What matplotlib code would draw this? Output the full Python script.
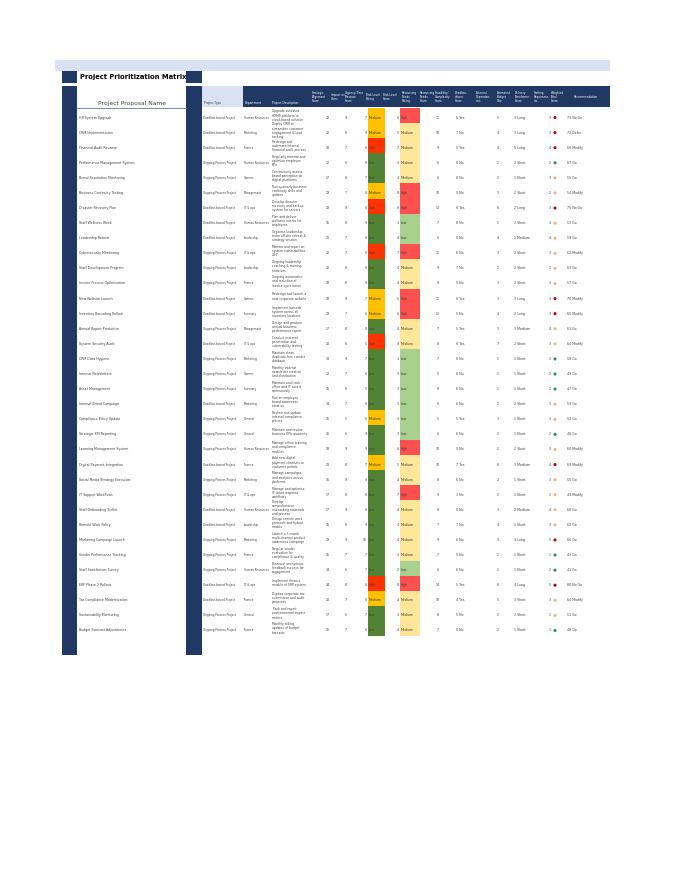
import matplotlib
matplotlib.use("Agg")
import matplotlib.pyplot as plt
from matplotlib.patches import Rectangle

names = ["HR System Upgrade","CRM Implementation","Financial Audit Revamp","Performance Management System",
 "Brand Reputation Monitoring","Business Continuity Testing","Disaster Recovery Plan","Staff Wellness Week",
 "Leadership Retreat","Cybersecurity Monitoring","Staff Development Program","Invoice Process Optimization",
 "New Website Launch","Inventory Barcoding Rollout","Annual Report Production","System Security Audit",
 "CRM Data Hygiene","Internal Newsletters","Asset Management","Internal Brand Campaign",
 "Compliance Policy Update","Strategic KPI Reporting","Learning Management System","Digital Payment Integration",
 "Social Media Strategy Execution","IT Support Workflows","Staff Onboarding Toolkit","Remote Work Policy",
 "Marketing Campaign Launch","Vendor Performance Tracking","Staff Satisfaction Survey","ERP Phase 2 Rollout",
 "Tax Compliance Modernization","Sustainability Monitoring","Budget Forecast Adjustments"]
ptype = list("DDDOOODDDOOODDODOOODOOODOODDOOODDOO")
depts = ["Human Resources","Marketing","Finance","Human Resources","Comms","Management","IT & ops","Human Resources",
 "Leadership","IT & ops","Leadership","Finance","Comms","Inventory","Management","IT & ops","Marketing","Comms",
 "Inventory","Marketing","General","General","Human Resources","Finance","Marketing","IT & ops","Human Resources",
 "Leadership","Marketing","Finance","Human Resources","IT & ops","Finance","General","Finance"]
descs = ["Upgrade outdated\nHRMS platform to\ncloud-based solution","Deploy CRM to\nstreamline customer\nengagement & lead\ntracking",
 "Redesign and\nautomate internal\nfinancial audit process","Regularly monitor and\noptimise employee\nKPIs",
 "Continuously assess\nbrand perception on\ndigital platforms","Run quarterly business\ncontinuity drills and\nupdates",
 "Develop disaster\nrecovery and backup\nsystem for servers","Plan and deliver\nwellness events for\nemployees",
 "Organise leadership\nteam off-site retreat &\nstrategy session","Monitor and report on\nsystem vulnerabilities\n24/7",
 "Ongoing leadership\ncoaching & training\ninitiatives","Ongoing automation\nand reduction of\ninvoice cycle times",
 "Redesign and launch a\nnew corporate website","Implement barcode\nsystem across all\ninventory locations",
 "Design and produce\nannual business\nperformance report","Conduct external\npenetration and\nvulnerability testing",
 "Maintain clean,\nduplicate-free contact\ndatabase","Monthly internal\nnewsletter creation\nand distribution",
 "Maintain and track\noffice and IT assets\ncontinuously","Run an employee\nbrand awareness\ninitiative",
 "Review and update\ninternal compliance\npolicies","Maintain and review\nbusiness KPIs quarterly",
 "Manage online training\nand compliance\nmodules","Add new digital\npayment channels to\ncustomer portals",
 "Manage campaigns\nand analytics across\nplatforms","Manage and optimise\nIT ticket response\nworkflows",
 "Develop\ncomprehensive\nonboarding materials\nand process","Design remote work\nprotocols and hybrid\nmodels",
 "Launch a 3-month\nmulti-channel product\nawareness campaign","Regular vendor\nevaluation for\ncompliance & quality",
 "Biannual anonymous\nfeedback surveys for\nengagement","Implement finance\nmodule of ERP system",
 "Digitise corporate tax\nsubmission and audit\nprocesses","Track and report\nenvironmental impact\nmetrics",
 "Monthly rolling\nupdates of budget\nforecasts"]
strategic = [22,20,18,12,17,19,22,15,21,20,20,18,18,19,17,20,14,13,15,14,16,16,18,21,16,17,17,15,19,15,14,24,20,17,16]
impact = [9,8,7,6,8,7,9,8,7,7,8,8,9,7,8,6,9,7,8,7,5,6,9,8,9,8,9,8,9,7,6,8,7,6,7]
risk_score = [7,9,6,8,7,6,6,9,8,6,8,9,7,6,8,5,7,6,5,8,6,9,9,7,9,8,8,9,10,7,7,6,6,7,6]
risk_rating = ["Medium","Medium","High","Low","Low","Medium","High","Low","Low","High","Low","Low","Medium","Medium",
 "Low","High","Low","Low","Low","Low","Medium","Low","Low","Medium","Low","Low","Low","Low","Low","Low","Low","High",
 "Medium","Low","Low"]
res_score = [6,5,7,3,4,8,8,3,4,7,4,4,6,6,4,9,3,3,3,3,3,3,6,5,4,7,4,4,4,3,2,8,4,3,4]
res_rating = ["High","Medium","Medium","Medium","Medium","High","High","Low","Low","High","Medium","Medium","High","High",
 "Medium","Medium","Low","Low","Low","Low","Low","Low","High","Medium","Medium","High","Medium","Medium","Medium",
 "Medium","Low","High","Medium","Medium","Medium"]
feas = [11,10,9,6,6,10,12,7,6,11,9,9,11,12,7,8,7,5,8,6,5,6,10,10,8,9,8,7,9,7,6,14,10,8,7]
dl_score = [6,7,5,6,8,5,6,8,5,6,7,5,6,5,5,6,6,6,6,6,5,6,5,7,6,3,5,7,6,5,6,5,4,5,5]
deadline = ["Yes","No","Yes","No","No","No","Yes","No","No","No","No","No","Yes","No","Yes","Yes","No","No","No","No",
 "Yes","No","No","Yes","No","No","No","No","No","No","No","Yes","Yes","No","No"]
ext_dep = [5,4,4,2,2,3,6,1,4,3,2,3,3,4,3,7,1,1,1,2,3,2,2,6,2,2,3,4,3,2,1,6,5,2,2]
term_score = [3,3,5,2,1,2,2,2,1,2,2,2,3,2,3,2,1,1,1,2,1,1,2,3,1,1,2,1,3,1,1,4,3,2,1]
term = ["Long","Long","Long","Short","Short","Short","Long","Short","Medium","Short","Short","Short","Long","Long",
 "Medium","Short","Short","Short","Short","Short","Short","Short","Short","Medium","Short","Short","Medium","Short",
 "Long","Short","Short","Long","Short","Short","Short"]
staff = [3,3,4,2,3,2,3,3,4,3,2,3,3,3,4,3,2,2,2,3,3,2,3,4,3,2,4,3,5,1,2,5,3,1,1]
staff_flag = ["R","R","R","G","Y","Y","R","Y","Y","Y","Y","Y","R","R","Y","Y","G","G","G","Y","Y","G","Y","R","Y","Y",
 "Y","Y","R","G","G","R","Y","Y","G"]
total = [73,72,66,67,55,54,75,53,59,62,63,57,70,66,61,64,58,49,47,53,52,46,60,69,55,49,60,62,66,43,41,80,64,51,48]
recommend = ["No Go","Defer","Modify","Go","Go","Modify","No Go","Go","Go","Modify","Go","Go","Modify","Modify","Go",
 "Modify","Go","Go","Go","Go","Go","Go","Modify","Modify","Go","Modify","Go","Go","Go","Go","Go","No Go","Modify","Go","Go"]
headers = ["Strategic\nAlignment\nScore","Impact on\nUsers","Urgency/Time\nPressure\nScore","Risk Level\nRating",
 "Risk Level\nScore","Resourcing\nNeeds\nRating","Resourcing\nNeeds\nScore","Feasibility/\nComplexity\nScore",
 "Deadline-\ndriven\nScore","External\nDependen-\ncies","Estimated\nBudget\nSize","Delivery\nTimeframe\nScore",
 "Staffing\nRequireme-\nnts","Weighted\nTotal\nScore","Recommendation"]

NAVY = "#1F3864"; LB = "#D9E1F2"
risk_col = {"Low": "#548235", "Medium": "#FFC000", "High": "#FF3300"}
res_col = {"Low": "#A9D08E", "Medium": "#FFE699", "High": "#FF5050"}
dot_col = {"R": "#C00000", "Y": "#F4B183", "G": "#2E8B6E"}
TXT = "#404040"

fig = plt.figure(figsize=(6.8, 8.8), dpi=100)
ax = fig.add_axes([0, 0, 1, 1])
ax.set_xlim(0, 680); ax.set_ylim(880, 0); ax.axis("off")

def rect(x0, y0, x1, y1, c):
    ax.add_patch(Rectangle((x0, y0), x1 - x0, y1 - y0, facecolor=c, edgecolor="none"))

rect(55, 60, 610, 71, LB)
rect(202, 86, 243, 107, LB)
rect(243, 86, 610, 107, NAVY)
ax.text(80, 77, "Project Prioritization Matrix", fontsize=4.9, fontweight="bold", va="center", color="black")
ax.text(132, 103, "Project Proposal Name", fontsize=4.3, ha="center", va="center", color=TXT)
ax.plot([77, 186], [108, 108], color="#5B7BB5", lw=0.6)
ax.text(204, 103, "Project Type", fontsize=2.1, va="center", color=TXT)
ax.text(245, 103, "Department", fontsize=2.1, va="center", color="white")
ax.text(272, 103, "Project Description", fontsize=2.1, va="center", color="white")
hx = [312, 331, 345, 366, 383, 402, 420, 435, 455, 476, 497, 515, 534, 551, 574]
for x, h in zip(hx, headers):
    ax.text(x, 97, h, fontsize=2.0, va="center", color="white", linespacing=1.0)

top, n = 108, len(names)
pitch = (636 - top) / n
for i in range(n):
    y0 = top + i * pitch; yc = y0 + pitch / 2 + 2
    rect(368, y0, 385, y0 + pitch + 0.1, risk_col[risk_rating[i]])
    rect(400, y0, 420, y0 + pitch + 0.1, res_col[res_rating[i]])
    kw = dict(fontsize=2.3, va="center", color=TXT)
    ax.text(79, yc, names[i], **kw)
    ax.text(203, yc, "Deadline-bound Project" if ptype[i] == "D" else "Ongoing Process Project",
            fontsize=2.0, va="center", color=TXT)
    ax.text(243.5, yc, depts[i], fontsize=2.0, va="center", color=TXT)
    ax.text(272, y0 + pitch / 2, descs[i], fontsize=2.2, va="center", color=TXT, linespacing=1.05)
    ax.text(328, yc, str(strategic[i]), ha="center", **kw)
    ax.text(346, yc, str(impact[i]), ha="center", **kw)
    ax.text(367, yc, str(risk_score[i]), ha="right", **kw)
    ax.text(369, yc, risk_rating[i], **kw)
    ax.text(399, yc, str(res_score[i]), ha="right", **kw)
    ax.text(401, yc, res_rating[i], **kw)
    ax.text(438, yc, str(feas[i]), ha="center", **kw)
    ax.text(456, yc, f"{dl_score[i]} {deadline[i]}", **kw)
    ax.text(498, yc, str(ext_dep[i]), ha="center", **kw)
    ax.text(514, yc, f"{term_score[i]} {term[i]}", **kw)
    ax.text(551, yc, str(staff[i]), ha="right", **kw)
    ax.scatter([555], [yc], s=5, color=dot_col[staff_flag[i]], edgecolors="none", zorder=3)
    ax.text(567, yc, f"{total[i]} {recommend[i]}", **kw)

rect(62, 71, 77, 83, NAVY); rect(186, 71, 202, 83, NAVY)
rect(62, 86, 77, 655, NAVY); rect(186, 86, 202, 655, NAVY)
fig.savefig("out.png", dpi=100, facecolor="white")
